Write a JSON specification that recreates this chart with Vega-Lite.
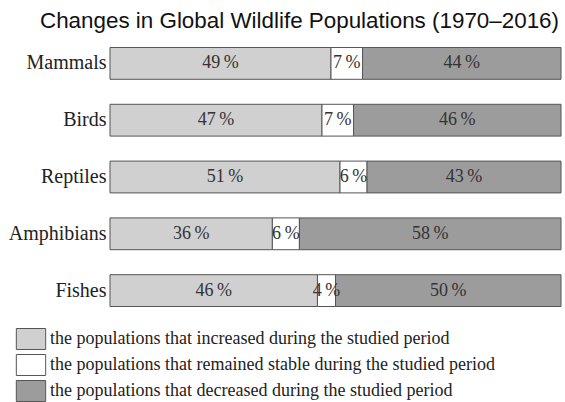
{
  "$schema": "https://vega.github.io/schema/vega-lite/v6.json",
  "autosize": "none",
  "padding": {"left": 110, "top": 35, "right": 4, "bottom": 83},
  "width": 451,
  "height": 284,
  "background": "white",
  "config": {"view": {"stroke": null}},
  "title": {
    "text": "Changes in Global Wildlife Populations (1970–2016)",
    "font": "Liberation Sans",
    "fontSize": 22.4,
    "fontWeight": "normal",
    "color": "#111",
    "anchor": "middle",
    "dx": -36,
    "offset": 3
  },
  "data": {
    "values": [
      {"group": "Mammals", "trend": "increased", "ord": 1, "pct": 49},
      {"group": "Mammals", "trend": "stable", "ord": 2, "pct": 7},
      {"group": "Mammals", "trend": "decreased", "ord": 3, "pct": 44},
      {"group": "Birds", "trend": "increased", "ord": 1, "pct": 47},
      {"group": "Birds", "trend": "stable", "ord": 2, "pct": 7},
      {"group": "Birds", "trend": "decreased", "ord": 3, "pct": 46},
      {"group": "Reptiles", "trend": "increased", "ord": 1, "pct": 51},
      {"group": "Reptiles", "trend": "stable", "ord": 2, "pct": 6},
      {"group": "Reptiles", "trend": "decreased", "ord": 3, "pct": 43},
      {"group": "Amphibians", "trend": "increased", "ord": 1, "pct": 36},
      {"group": "Amphibians", "trend": "stable", "ord": 2, "pct": 6},
      {"group": "Amphibians", "trend": "decreased", "ord": 3, "pct": 58},
      {"group": "Fishes", "trend": "increased", "ord": 1, "pct": 46},
      {"group": "Fishes", "trend": "stable", "ord": 2, "pct": 4},
      {"group": "Fishes", "trend": "decreased", "ord": 3, "pct": 50}
    ]
  },
  "transform": [
    {"stack": "pct", "groupby": ["group"], "sort": [{"field": "ord"}], "as": ["x0", "x1"]},
    {"calculate": "(datum.x0 + datum.x1) / 2", "as": "xm"},
    {"calculate": "datum.pct + '\u2009%'", "as": "lbl"}
  ],
  "encoding": {
    "y": {
      "field": "group",
      "type": "nominal",
      "sort": ["Mammals", "Birds", "Reptiles", "Amphibians", "Fishes"],
      "scale": {"paddingInner": 0.44, "paddingOuter": 0.22},
      "axis": {
        "title": null,
        "domain": false,
        "ticks": false,
        "labelFont": "Liberation Serif",
        "labelFontSize": 20,
        "labelColor": "#222",
        "labelPadding": 4
      }
    }
  },
  "layer": [
    {
      "mark": {"type": "bar", "stroke": "#555", "strokeWidth": 1},
      "encoding": {
        "x": {"field": "x0", "type": "quantitative", "scale": {"domain": [0, 100], "nice": false}, "axis": null},
        "x2": {"field": "x1"},
        "color": {
          "field": "trend",
          "type": "nominal",
          "scale": {
            "domain": ["increased", "stable", "decreased"],
            "range": ["#d0d0d0", "#ffffff", "#9c9c9c"]
          },
          "legend": {
            "orient": "none",
            "legendX": -90,
            "legendY": 293,
            "title": null,
            "padding": 0,
            "direction": "vertical",
            "symbolType": "M-1.4,-1H1.4V1H-1.4Z",
            "symbolSize": 440,
            "symbolStrokeColor": "#555",
            "symbolStrokeWidth": 1,
            "symbolOpacity": 1,
            "rowPadding": 0,
            "labelOffset": 8,
            "labelFont": "Liberation Serif",
            "labelFontSize": 18,
            "labelColor": "#222",
            "labelLimit": 600,
            "labelExpr": "datum.value == 'increased' ? 'the populations that increased during the studied period' : datum.value == 'stable' ? 'the populations that remained stable during the studied period' : 'the populations that decreased during the studied period'"
          }
        }
      }
    },
    {
      "mark": {"type": "text", "font": "Liberation Serif", "fontSize": 18, "color": "#333"},
      "encoding": {
        "x": {"field": "xm", "type": "quantitative"},
        "text": {"field": "lbl"}
      }
    }
  ]
}
